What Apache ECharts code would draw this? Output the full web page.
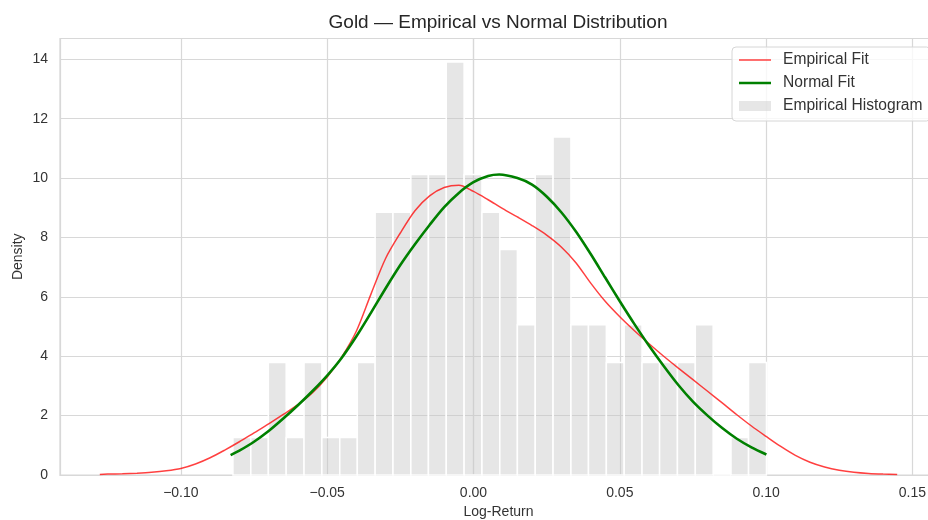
<!DOCTYPE html>
<html>
<head>
<meta charset="utf-8">
<title>Gold — Empirical vs Normal Distribution</title>
<script src="https://cdn.jsdelivr.net/npm/echarts@6/dist/echarts.min.js"></script>
<style>
  html, body { margin: 0; padding: 0; background: #fff; }
  #container { width: 928px; height: 520px; }
</style>
</head>
<body>
<div id="container"></div>
<script>
// bin edges of the histogram (log-return)
const binEdges = [-0.0822, -0.0761, -0.0701, -0.0640, -0.0579, -0.0518, -0.0457, -0.0397,
  -0.0336, -0.0275, -0.0214, -0.0154, -0.0093, -0.0032, 0.0029, 0.0090, 0.0150, 0.0211,
  0.0272, 0.0333, 0.0393, 0.0454, 0.0515, 0.0576, 0.0636, 0.0697, 0.0758, 0.0819,
  0.0880, 0.0940, 0.1001];

// density of each bin
const histDensity = [1.26, 1.26, 3.79, 1.26, 3.79, 1.26, 1.26, 3.79, 8.85, 8.85,
  10.12, 10.12, 13.91, 10.12, 8.85, 7.59, 5.06, 10.12, 11.38, 5.06,
  5.06, 3.79, 5.06, 3.79, 3.79, 3.79, 5.06, 0, 1.26, 3.79];

// empirical fit (kde)
const kdeX = [-0.1277, -0.125, -0.120, -0.115, -0.110, -0.105, -0.100, -0.095, -0.090,
  -0.085, -0.080, -0.075, -0.070, -0.065, -0.060, -0.055, -0.050, -0.045, -0.040,
  -0.035, -0.030, -0.025, -0.020, -0.015, -0.010, -0.005, 0.000, 0.005, 0.010, 0.015,
  0.020, 0.025, 0.030, 0.035, 0.040, 0.045, 0.050, 0.055, 0.060, 0.065, 0.070, 0.075,
  0.080, 0.085, 0.090, 0.095, 0.100, 0.105, 0.110, 0.115, 0.120, 0.125, 0.130, 0.135,
  0.140, 0.1448];
const kdeY = [0.02, 0.03, 0.04, 0.06, 0.09, 0.14, 0.22, 0.37, 0.58, 0.84, 1.12, 1.42,
  1.72, 2.04, 2.37, 2.77, 3.3, 3.98, 4.85, 6.1, 7.3, 8.15, 8.9, 9.4, 9.68, 9.76, 9.55,
  9.27, 8.97, 8.69, 8.4, 8.08, 7.68, 7.15, 6.47, 5.85, 5.33, 4.86, 4.42, 4.0, 3.6, 3.21,
  2.82, 2.43, 2.03, 1.65, 1.3, 0.96, 0.66, 0.43, 0.27, 0.16, 0.09, 0.05, 0.03, 0.02];

// normal fit
const normX = [-0.083, -0.080, -0.075, -0.070, -0.065, -0.060, -0.055, -0.050, -0.045,
  -0.040, -0.035, -0.030, -0.025, -0.020, -0.015, -0.010, -0.005, 0.000, 0.005, 0.0088,
  0.015, 0.020, 0.025, 0.030, 0.035, 0.040, 0.045, 0.050, 0.055, 0.060, 0.065, 0.070,
  0.075, 0.080, 0.085, 0.090, 0.095, 0.1001];
const normY = [0.67, 0.82, 1.12, 1.48, 1.9, 2.35, 2.83, 3.35, 3.95, 4.67, 5.47, 6.29,
  7.07, 7.77, 8.42, 9.02, 9.5, 9.86, 10.07, 10.12, 10.0, 9.78, 9.38, 8.85, 8.2, 7.45,
  6.65, 5.85, 5.08, 4.35, 3.67, 3.03, 2.47, 2.0, 1.58, 1.22, 0.93, 0.69];

function grafica() {
  let dom = document.getElementById("container");
  let myChart = echarts.init(dom, null, {
    renderer: "canvas",
    useDirtyRect: false,
  });

  const bins = histDensity.map((d, i) => [binEdges[i], binEdges[i + 1], d]);
  const kde = kdeX.map((x, i) => [x, kdeY[i]]);
  const norm = normX.map((x, i) => [x, normY[i]]);

  const gridColor = "#d8d8d8";
  const textColor = "#333";
  const font = "Liberation Sans, Arial, sans-serif";

  // legend icons: a thin line inside a 32x10 box
  const thinLine = "path://M0,0 L0.01,0 M0,4.25 L32,4.25 L32,5.75 L0,5.75 Z M31.99,10 L32,10";
  const thickLine = "path://M0,0 L0.01,0 M0,3.7 L32,3.7 L32,6.3 L0,6.3 Z M31.99,10 L32,10";

  let option = {
    animation: false,
    backgroundColor: "#fff",
    title: {
      text: "Gold — Empirical vs Normal Distribution",
      left: 498,
      top: 13,
      padding: 0,
      textAlign: "center",
      textStyle: {
        fontFamily: font,
        fontSize: 19,
        fontWeight: "normal",
        color: "#262626",
      },
    },
    legend: {
      orient: "vertical",
      left: 732,
      top: 47,
      padding: [5, 8, 7, 7],
      itemGap: 7,
      itemWidth: 32,
      itemHeight: 10,
      backgroundColor: "rgba(255,255,255,0.8)",
      borderColor: "#d6d6d6",
      borderWidth: 1,
      borderRadius: 4,
      textStyle: {
        fontFamily: font,
        fontSize: 15.6,
        color: textColor,
        padding: [0, 0, 0, 7],
      },
      data: [
        { name: "Empirical Fit", icon: thinLine },
        { name: "Normal Fit", icon: thickLine },
        { name: "Empirical Histogram", icon: "rect" },
      ],
    },
    grid: {
      left: 60,
      right: -9,
      top: 38.5,
      bottom: 45,
      outerBoundsMode: "none",
      show: true,
      borderColor: gridColor,
      borderWidth: 1.2,
    },
    xAxis: {
      type: "value",
      min: -0.1413,
      max: 0.1584,
      splitNumber: 6,
      name: "Log-Return",
      nameLocation: "middle",
      nameGap: 30,
      nameMoveOverlap: false,
      nameTextStyle: {
        fontFamily: font,
        fontSize: 14,
        color: textColor,
      },
      axisLine: { lineStyle: { color: gridColor, width: 1.2 } },
      axisTick: { show: false },
      axisLabel: {
        margin: 11,
        showMinLabel: false,
        showMaxLabel: false,
        fontFamily: font,
        fontSize: 14,
        color: textColor,
        formatter: (v) => (v < 0 ? "\u2212" : "") + Math.abs(v).toFixed(2),
      },
      splitLine: { lineStyle: { color: gridColor, width: 1.2 } },
    },
    yAxis: {
      type: "value",
      min: 0,
      max: 14.7,
      interval: 2,
      name: "Density",
      nameLocation: "middle",
      nameGap: 35,
      nameMoveOverlap: false,
      nameTextStyle: {
        fontFamily: font,
        fontSize: 14,
        color: textColor,
      },
      axisLine: { show: true, lineStyle: { color: gridColor, width: 1.2 } },
      axisTick: { show: false },
      axisLabel: {
        margin: 12,
        showMaxLabel: false,
        fontFamily: font,
        fontSize: 14,
        color: textColor,
      },
      splitLine: { lineStyle: { color: gridColor, width: 1.2 } },
    },
    series: [
      {
        name: "Empirical Histogram",
        type: "custom",
        itemStyle: { color: "rgba(200,200,200,0.45)" },
        encode: { x: [0, 1], y: 2 },
        renderItem: (params, api) => {
          const p0 = api.coord([api.value(0), api.value(2)]);
          const p1 = api.coord([api.value(1), 0]);
          return {
            type: "rect",
            shape: { x: p0[0], y: p0[1], width: p1[0] - p0[0], height: p1[1] - p0[1] },
            style: { fill: "rgba(200,200,200,0.45)", stroke: "#fff", lineWidth: 1.5 },
          };
        },
        data: bins,
        z: 1,
      },
      {
        name: "Empirical Fit",
        type: "line",
        data: kde,
        smooth: 0.3,
        symbol: "none",
        lineStyle: { color: "rgba(255,0,0,0.75)", width: 1.5 },
        itemStyle: { color: "rgba(255,0,0,0.75)" },
        z: 3,
      },
      {
        name: "Normal Fit",
        type: "line",
        data: norm,
        smooth: 0.3,
        symbol: "none",
        lineStyle: { color: "#008000", width: 2.6 },
        itemStyle: { color: "#008000" },
        z: 4,
      },
    ],
  };

  if (option && typeof option === "object") {
    myChart.setOption(option);
  }

  window.addEventListener("resize", myChart.resize);
}

grafica();
</script>
</body>
</html>
